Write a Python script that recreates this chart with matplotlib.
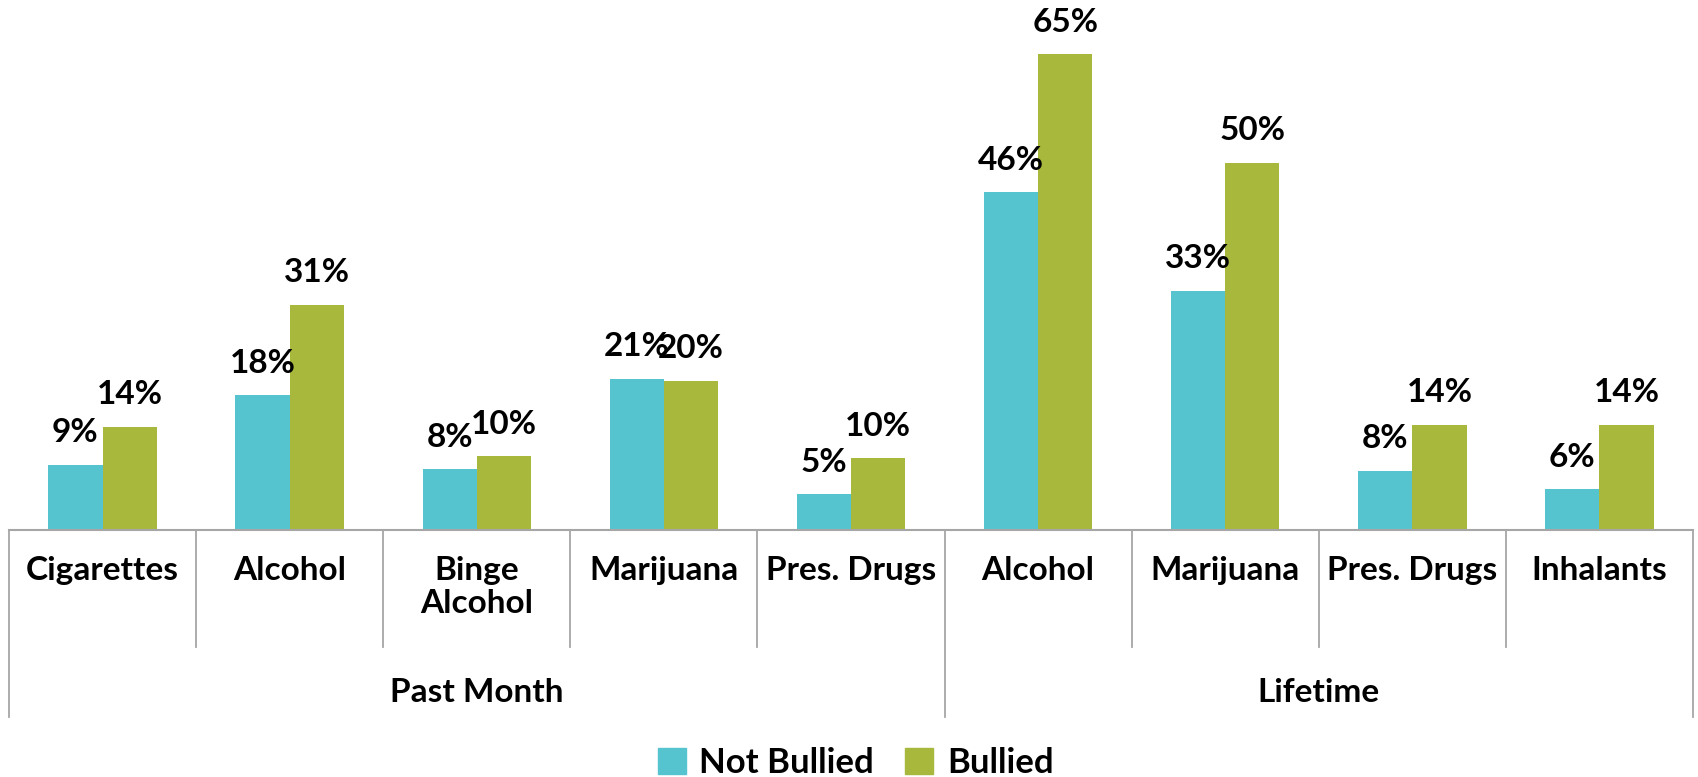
import matplotlib
matplotlib.use("Agg")
import matplotlib.pyplot as plt
from matplotlib.transforms import blended_transform_factory
from matplotlib.patches import Rectangle
from matplotlib.lines import Line2D

categories = ["Cigarettes", "Alcohol", "Binge\nAlcohol", "Marijuana", "Pres. Drugs",
              "Alcohol", "Marijuana", "Pres. Drugs", "Inhalants"]
groups = ["Past Month", "Lifetime"]
group_sizes = [5, 4]
not_bullied = [8.9, 18.4, 8.3, 20.7, 4.9, 46.2, 32.7, 8.1, 5.6]
bullied = [14.1, 30.8, 10.1, 20.4, 9.8, 65.0, 50.2, 14.4, 14.4]
series_names = ["Not Bullied", "Bullied"]
colors = ["#56C4CF", "#A8B83C"]

plt.rcParams['font.family'] = ['Lato', 'DejaVu Sans']
W, H = 1698, 777
fig = plt.figure(figsize=(W / 100, H / 100), dpi=100)
ax = fig.add_axes([9 / W, (H - 530) / H, 1684 / W, 530 / H])
n = len(categories)
x = list(range(n))
bw = 0.29
ax.bar([i - bw / 2 for i in x], not_bullied, bw, color=colors[0])
ax.bar([i + bw / 2 for i in x], bullied, bw, color=colors[1])
ax.set_xlim(-0.5, n - 0.5)
ax.set_ylim(0, 72.45)
ax.axis('off')

fs = 24
for vals, off in ((not_bullied, -bw / 2), (bullied, bw / 2)):
    for i, v in enumerate(vals):
        ax.annotate(f"{round(v)}%", (i + off, v), xytext=(0, 23), textcoords='offset points',
                    ha='center', va='center', fontsize=fs, fontweight='bold', color='black')

tr = blended_transform_factory(ax.transData, fig.transFigure)
def fy(p):
    return 1 - p / H

gray = "#A6A6A6"
fig.add_artist(Line2D([-0.5, n - 0.5], [fy(530), fy(530)], transform=tr, color=gray, lw=1.5))
bounds = [0]
for g in group_sizes:
    bounds.append(bounds[-1] + g)
for k in range(n + 1):
    xb = k - 0.5
    long = k in bounds
    fig.add_artist(Line2D([xb, xb], [fy(530), fy(717 if long else 647)], transform=tr,
                          color=gray, lw=1.3))
for i, c in enumerate(categories):
    fig.text(i, fy(556), c, transform=tr, ha='center', va='top', fontsize=fs,
             fontweight='bold', linespacing=1.15)
start = 0
for g, s in zip(groups, group_sizes):
    fig.text(start + (s - 1) / 2, fy(693), g, transform=tr, ha='center', va='center',
             fontsize=fs, fontweight='bold')
    start += s

handles = [Rectangle((0, 0), 1, 1, color=c) for c in colors]
fig.legend(handles, series_names, loc='center', bbox_to_anchor=(0.504, fy(763)), ncol=2,
           frameon=False, prop={'size': 25, 'weight': 'bold'}, handlelength=0.8,
           handleheight=0.8, handletextpad=0.4, columnspacing=0.9)

fig.savefig("out.png", dpi=100)
